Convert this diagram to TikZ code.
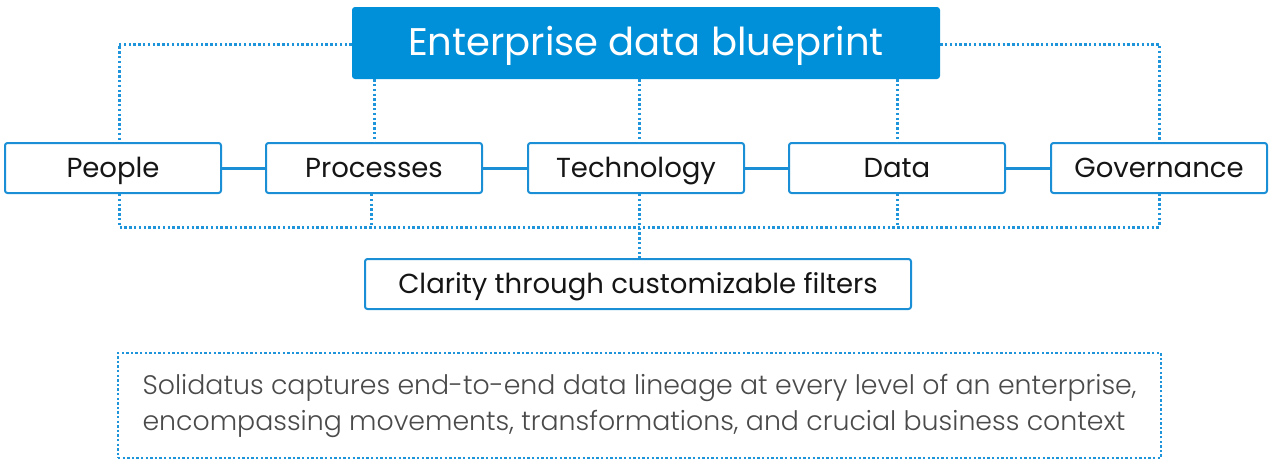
\documentclass[tikz,border=0pt]{standalone}
\usepackage{fontspec}
\setmainfont{Poppins}
\newfontfamily\lightfont{Poppins Light}
\definecolor{bpblue}{HTML}{0090D9}
\definecolor{bpline}{HTML}{1A8FD6}
\definecolor{bpdot}{HTML}{1E94DB}
\definecolor{bptext}{HTML}{151515}
\definecolor{bpgray}{HTML}{4A4A4A}
\begin{document}
\begin{tikzpicture}[x=1pt,y=-1pt,
  item/.style={draw=bpline, line width=2pt, fill=white, rounded corners=2.5pt,
    minimum width=216pt, minimum height=50pt, inner sep=0pt, text=bptext,
    text height=19.5pt, text depth=1.5pt,
    font=\fontsize{27.5}{32}\selectfont},
  titlebox/.style={fill=bpblue, rounded corners=3pt, minimum width=588pt,
    minimum height=72pt, inner sep=0pt, text=white, text height=27pt, text depth=3pt,
    font=\fontsize{38.5}{46}\selectfont},
  descbox/.style={draw=bpdot, line width=2.8pt, dash pattern=on 2.4pt off 2.2pt,
    minimum width=1043pt, minimum height=105pt, inner sep=0pt, text=bpgray,
    align=left, font=\lightfont\fontsize{26.8}{36}\selectfont},
  solidlink/.style={draw=bpline, line width=3pt},
  dotlink/.style={draw=bpdot, line width=3pt, dash pattern=on 2.4pt off 2.4pt}]
\useasboundingbox (0,0) rectangle (1271,461);
\node[titlebox] (title) at (646,43) {Enterprise data blueprint};
\node[item] (people) at (113,168) {People};
\node[item] (proc) at (374,168) {Processes};
\node[item] (tech) at (636,168) {Technology};
\node[item] (data) at (897,168) {Data};
\node[item] (gov) at (1159,168) {Governance};
\node[item, minimum width=546pt] (clar) at (638,284) {Clarity through customizable filters};
\node[descbox] (desc) at (639.5,405.5) {Solidatus captures end-to-end data lineage at every level of an enterprise,\\encompassing movements, transformations, and crucial business context};
\coordinate (bl) at (119,227);
\coordinate (br) at (1159,227);
% solid links
\draw[solidlink] (people) -- (proc);
\draw[solidlink] (proc) -- (tech);
\draw[solidlink] (tech) -- (data);
\draw[solidlink] (data) -- (gov);
% dotted links from title
\draw[dotlink] ([yshift=-1pt]title.west) -| ([xshift=6pt]people.north);
\draw[dotlink] ([yshift=-1pt]title.east) -| (gov.north);
\draw[dotlink] (title.south -| proc.north) -- (proc.north);
\draw[dotlink] ([xshift=3pt]title.south -| tech.north) -- ([xshift=3pt]tech.north);
\draw[dotlink] (title.south -| data.north) -- (data.north);
% dotted links below
\draw[dotlink] ([xshift=6pt]people.south) -- (bl) -- (br) -- (gov.south);
\draw[dotlink] ([xshift=-3pt]proc.south) -- ([xshift=-3pt]proc.south |- bl);
\draw[dotlink] ([xshift=3pt]tech.south) -- ([xshift=3pt]tech.south |- clar.north);
\draw[dotlink] (data.south) -- (data.south |- bl);
\end{tikzpicture}
\end{document}
